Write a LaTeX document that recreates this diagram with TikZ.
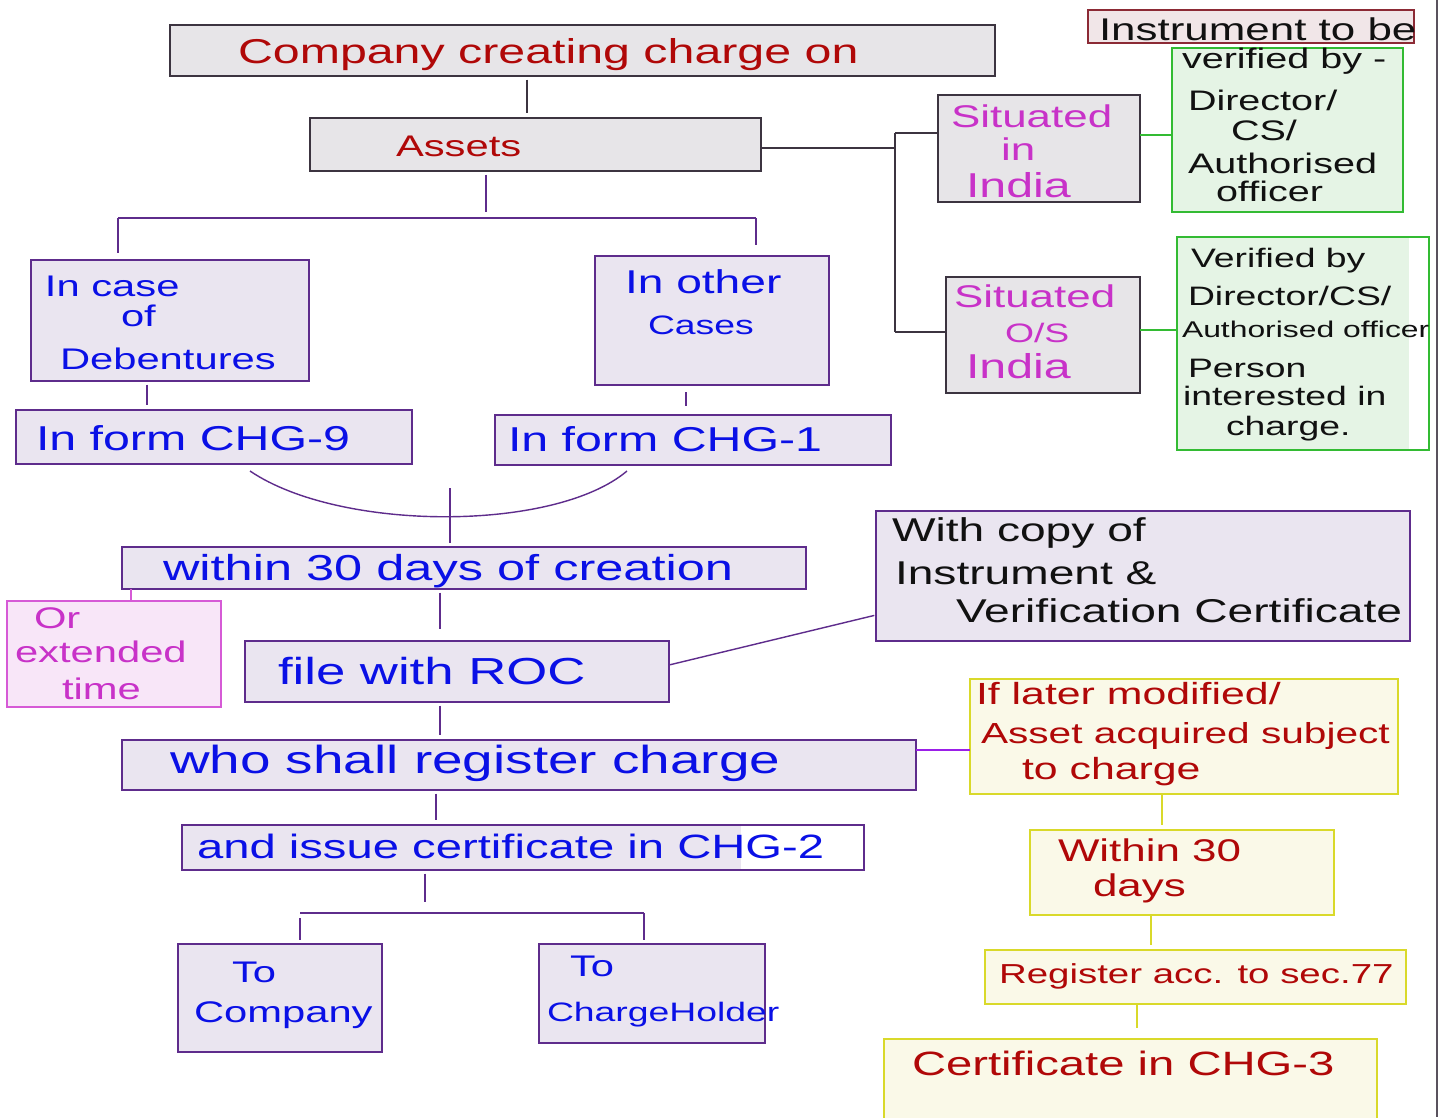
\documentclass[tikz,border=0pt]{standalone}
\usepackage{fontspec}
\setmainfont{Liberation Sans}[FakeStretch=1.4]
\usetikzlibrary{fit}
\definecolor{grayfill}{HTML}{E7E5E8}
\definecolor{grayline}{HTML}{3C3440}
\definecolor{lavfill}{HTML}{EAE5F0}
\definecolor{lavline}{HTML}{5E2C8C}
\definecolor{pinkfill}{HTML}{F8E6F8}
\definecolor{pinkline}{HTML}{D65AD6}
\definecolor{greenfill}{HTML}{E5F4E5}
\definecolor{greenline}{HTML}{33BB33}
\definecolor{yelfill}{HTML}{FAF9E8}
\definecolor{yelline}{HTML}{D9D92A}
\definecolor{instfill}{HTML}{F1E6E8}
\definecolor{instline}{HTML}{8C2A35}
\definecolor{hred}{HTML}{B00808}
\definecolor{hblue}{HTML}{0A10E6}
\definecolor{hmag}{HTML}{C832C8}
\definecolor{hblack}{HTML}{111111}
\definecolor{brightpur}{HTML}{9B1FE8}
\newcommand\hwt[6]{\node[txt,text=#1,font=\fontsize{\fpeval{0.893*#2}pt}{\fpeval{0.893*#2}pt}\selectfont] (#3) at (#4,#5) {#6};}
\tikzset{
  box/.style={draw, line width=1pt, inner sep=0pt, outer sep=0pt},
  graybox/.style={box, draw=grayline, fill=grayfill},
  lavbox/.style={box, draw=lavline, fill=lavfill},
  pinkbox/.style={box, draw=pinkline, fill=pinkfill},
  greenbox/.style={box, draw=greenline, fill=greenfill},
  yelbox/.style={box, draw=yelline, fill=yelfill},
  instbox/.style={box, draw=instline, fill=instfill},
  txt/.style={anchor=base west, inner sep=0pt, outer sep=0pt},
  grayconn/.style={draw=grayline, line width=0.8pt},
  purconn/.style={draw=lavline, line width=0.8pt},
  pinkconn/.style={draw=pinkline, line width=0.8pt},
  greenconn/.style={draw=greenline, line width=0.8pt},
  yelconn/.style={draw=yelline, line width=0.8pt},
  brightconn/.style={draw=brightpur, line width=1.1pt},
  gap/.style={shorten <=2pt, shorten >=3pt},
}
\begin{document}
\begin{tikzpicture}[x=0.02cm,y=-0.02cm]
\clip (0,0) rectangle (1445,1117);
\fill[white] (0,0) rectangle (1445,1117);
\draw[draw=grayline!85, line width=1.6pt] (1437,0) -- (1437,1117);

% ---------- boxes ----------
\node[graybox, fit={(170,25)(995,76)}] (top) {};
\node[graybox, fit={(310,118)(761,171)}] (assets) {};
\node[lavbox, fit={(31,260)(309,381)}] (deb) {};
\node[lavbox, fit={(595,256)(829,385)}] (other) {};
\node[lavbox, fit={(16,410)(412,464)}] (chg9) {};
\node[lavbox, fit={(495,415)(891,465)}] (chg1) {};
\node[lavbox, fit={(122,547)(806,589)}] (within) {};
\node[pinkbox, fit={(7,601)(221,707)}] (pink) {};
\node[lavbox, fit={(245,641)(669,702)}] (file) {};
\node[lavbox, fit={(876,511)(1410,641)}] (copy) {};
\node[lavbox, fit={(122,740)(916,790)}] (who) {};
\node[lavbox, fit={(182,825)(864,870)}] (issue) {};
\fill[white] (741,826.2) rectangle (863.1,868.8);
\node[lavbox, fit={(178,944)(382,1052)}] (tocomp) {};
\node[lavbox, fit={(539,944)(765,1043)}] (toch) {};
\node[instbox, fit={(1088,10)(1414,43)}] (instr) {};
\node[graybox, fit={(938,95)(1140,202)}] (india) {};
\node[graybox, fit={(946,277)(1140,393)}] (os) {};
\node[greenbox, fit={(1172,48)(1403,212)}] (gr1) {};
\node[greenbox, fit={(1177,237)(1429,450)}] (gr2) {};
\fill[white] (1409,238.2) rectangle (1428.1,448.8);
\node[yelbox, fit={(970,679)(1398,794)}] (yel1) {};
\node[yelbox, fit={(1030,830)(1334,915)}] (yel2) {};
\node[yelbox, fit={(985,950)(1406,1004)}] (yel3) {};
\node[yelbox, fit={(884,1039)(1377,1130)}] (yel4) {};

% ---------- connectors ----------
\coordinate (cx1) at (527,0);
\draw[grayconn, gap] (top.south -| cx1) -- (assets.north -| cx1);
\coordinate (jA) at (486,212);
\coordinate (jL) at (118,218);
\coordinate (jR) at (756,218);
\draw[purconn, shorten <=2pt] (assets.south -| jA) -- (jA);
\draw[purconn] (jL) -- (jR);
\draw[purconn, shorten >=4pt] (jL) -- (deb.north -| jL);
\draw[purconn, shorten >=6pt] (jR) -- (other.north -| jR);
\coordinate (rA) at (895,148);
\coordinate (rT) at (895,133);
\coordinate (rB) at (895,332);
\draw[grayconn] (assets.east |- rA) -- (rA);
\draw[grayconn] (rT) -- (rB);
\draw[grayconn] (rT) -- (india.west |- rT);
\draw[grayconn] (rB) -- (os.west |- rB);
\coordinate (g1) at (0,135);
\draw[greenconn] (india.east |- g1) -- (gr1.west |- g1);
\coordinate (g2) at (0,330);
\draw[greenconn] (os.east |- g2) -- (gr2.west |- g2);
\coordinate (cx2) at (147,0);
\draw[purconn, gap] (deb.south -| cx2) -- (chg9.north -| cx2);
\coordinate (cx3) at (686,0);
\draw[purconn, shorten <=4pt, shorten >=5pt] (other.south -| cx3) -- (chg1.north -| cx3);
\coordinate (cv1) at (250,471);
\coordinate (cv2) at (627,471);
\draw[purconn] (cv1) .. controls (340,532) and (555,532) .. (cv2);
\coordinate (cm) at (450,488);
\draw[purconn, shorten >=2pt] (cm) -- (within.north -| cm);
\coordinate (cx4) at (131,0);
\draw[pinkconn] (within.south -| cx4) -- (pink.north -| cx4);
\coordinate (cx5) at (440,0);
\draw[purconn, shorten <=2pt, shorten >=7pt] (within.south -| cx5) -- (file.north -| cx5);
\coordinate (fy) at (0,665);
\coordinate (cy) at (0,615);
\draw[purconn, shorten >=1pt] (file.east |- fy) -- (copy.west |- cy);
\draw[purconn, gap] (file.south -| cx5) -- (who.north -| cx5);
\coordinate (wy) at (0,750);
\draw[brightconn] (who.east |- wy) -- (yel1.west |- wy);
\coordinate (cx6) at (436,0);
\draw[purconn, gap] (who.south -| cx6) -- (issue.north -| cx6);
\coordinate (jB) at (425,902);
\coordinate (bL) at (300,913);
\coordinate (bR) at (644,913);
\draw[purconn, shorten <=2pt] (issue.south -| jB) -- (jB);
\draw[purconn] (bL) -- (bR);
\draw[purconn, shorten <=3pt, shorten >=2pt] (bL) -- (tocomp.north -| bL);
\draw[purconn, shorten >=2pt] (bR) -- (toch.north -| bR);
\coordinate (cx7) at (1162,0);
\draw[yelconn, shorten >=3pt] (yel1.south -| cx7) -- (yel2.north -| cx7);
\coordinate (cx8) at (1151,0);
\draw[yelconn, shorten >=3pt] (yel2.south -| cx8) -- (yel3.north -| cx8);
\coordinate (cx9) at (1137,0);
\draw[yelconn, shorten >=6pt] (yel3.south -| cx9) -- (yel4.north -| cx9);

% ---------- texts ----------
\hwt{hred}{22}{tTop}{238}{63}{Company creating charge on}
\hwt{hred}{19}{tAssets}{396}{156}{Assets}
\hwt{hblue}{19}{tDeb1}{45}{296}{In case}
\hwt{hblue}{19}{tDeb2}{121}{326}{of}
\hwt{hblue}{19}{tDeb3}{60}{369}{Debentures}
\hwt{hblue}{21}{tOth1}{625}{293}{In other}
\hwt{hblue}{17}{tOth2}{648}{334}{Cases}
\hwt{hblue}{22}{tChg9}{36}{450}{In form CHG-9}
\hwt{hblue}{22}{tChg1}{508}{451}{In form CHG-1}
\hwt{hblue}{23}{tWithin}{163}{580}{within 30 days of creation}
\hwt{hmag}{19}{tPink1}{34}{628}{Or}
\hwt{hmag}{19}{tPink2}{15}{662}{extended}
\hwt{hmag}{19}{tPink3}{62}{699}{time}
\hwt{hblue}{24}{tFile}{278}{684}{file with ROC}
\hwt{hblack}{21}{tCopy1}{892}{541}{With copy of}
\hwt{hblack}{21}{tCopy2}{895}{584}{Instrument \&}
\hwt{hblack}{21}{tCopy3}{956}{622}{Verification Certificate}
\hwt{hblue}{25}{tWho}{170}{773}{who shall register charge}
\hwt{hblue}{21.5}{tIssue}{197}{858}{and issue certificate in CHG-2}
\hwt{hblue}{19}{tComp1}{232}{982}{To}
\hwt{hblue}{19}{tComp2}{194}{1022}{Company}
\hwt{hblue}{19}{tHold1}{570}{976}{To}
\hwt{hblue}{17}{tHold2}{547}{1021}{ChargeHolder}
\hwt{hblack}{20}{tInstr}{1099}{40}{Instrument to be}
\hwt{hmag}{20}{tInd1}{951}{127}{Situated}
\hwt{hmag}{20}{tInd2}{1001}{160}{in}
\hwt{hmag}{22}{tInd3}{966}{197}{India}
\hwt{hmag}{20}{tOs1}{954}{307}{Situated}
\hwt{hmag}{17}{tOs2}{1005}{342}{O/S}
\hwt{hmag}{22}{tOs3}{966}{378}{India}
\hwt{hblack}{18}{tG11}{1182}{68}{verified by -}
\hwt{hblack}{18}{tG12}{1188}{110}{Director/}
\hwt{hblack}{18}{tG13}{1231}{140}{CS/}
\hwt{hblack}{18}{tG14}{1188}{173}{Authorised}
\hwt{hblack}{18}{tG15}{1216}{201}{officer}
\hwt{hblack}{17}{tG21}{1191}{267}{Verified by}
\hwt{hblack}{17}{tG22}{1188}{305}{Director/CS/}
\hwt{hblack}{14.5}{tG23}{1182}{337}{Authorised officer}
\hwt{hblack}{17}{tG24}{1188}{377}{Person}
\hwt{hblack}{17}{tG25}{1183}{405}{interested in}
\hwt{hblack}{17}{tG26}{1226}{435}{charge.}
\hwt{hred}{19.5}{tY11}{976}{704}{If later modified/}
\hwt{hred}{18.5}{tY12}{981}{743}{Asset acquired subject}
\hwt{hred}{19.5}{tY13}{1022}{779}{to charge}
\hwt{hred}{20}{tY21}{1058}{861}{Within 30}
\hwt{hred}{20}{tY22}{1093}{896}{days}
\hwt{hred}{17.5}{tY3}{999}{983}{Register acc. to sec.77}
\hwt{hred}{21.5}{tY4}{912}{1075}{Certificate in CHG-3}
\end{tikzpicture}
\end{document}
